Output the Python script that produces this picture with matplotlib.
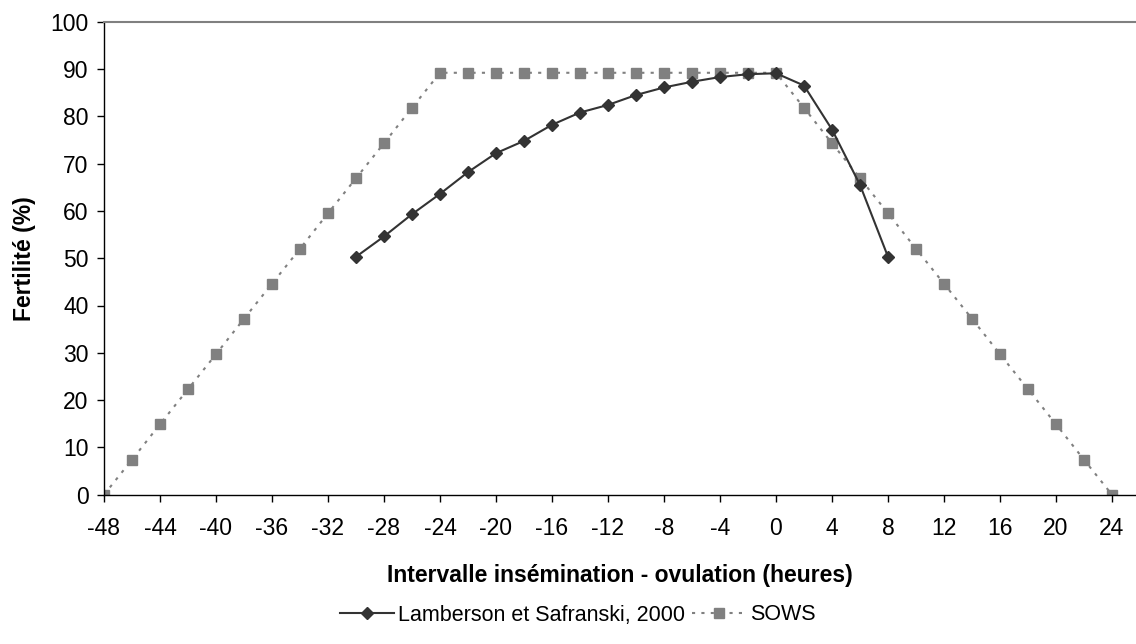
import matplotlib
matplotlib.use("Agg")
import matplotlib.pyplot as plt

plt.rcParams['font.family'] = ['Liberation Sans', 'DejaVu Sans']
plt.rcParams['axes.unicode_minus'] = False

hours_sows = [-48, -46, -44, -42, -40, -38, -36, -34, -32, -30, -28, -26, -24, -22, -20, -18,
              -16, -14, -12, -10, -8, -6, -4, -2, 0, 2, 4, 6, 8, 10, 12, 14, 16, 18, 20, 22, 24]
sows = [0, 7.4, 14.9, 22.3, 29.7, 37.2, 44.6, 52.0, 59.5, 66.9, 74.3, 81.8, 89.2, 89.2, 89.2, 89.2,
        89.2, 89.2, 89.2, 89.2, 89.2, 89.2, 89.2, 89.2, 89.2, 81.8, 74.3, 66.9, 59.5, 52.0, 44.6,
        37.2, 29.7, 22.3, 14.9, 7.4, 0]

hours_lam = [-30, -28, -26, -24, -22, -20, -18, -16, -14, -12, -10, -8, -6, -4, -2, 0, 2, 4, 6, 8]
lamberson = [50.3, 54.6, 59.3, 63.6, 68.2, 72.2, 74.8, 78.2, 80.8, 82.4, 84.5, 86.1, 87.3, 88.3,
             88.9, 89.1, 86.5, 77.2, 65.5, 50.3]

xticks = list(range(-48, 25, 4))
yticks = list(range(0, 101, 10))

FS = 16.5

fig = plt.figure(figsize=(11.36, 6.44), dpi=100)
ax = fig.add_axes([104/1136, 1 - 494.7/644, 1 - 104/1136, (494.7 - 21.7)/644])

ax.plot(hours_lam, lamberson, color='#333333', lw=1.5, marker='D', markersize=6.5,
        markerfacecolor='#333333', markeredgecolor='#333333',
        label='Lamberson et Safranski, 2000', zorder=3)
ax.plot(hours_sows, sows, color='#808080', lw=1.5, ls=(0, (1.5, 3)), marker='s', markersize=7,
        markerfacecolor='#808080', markeredgecolor='#808080', label='SOWS', zorder=2)

ax.set_xlim(-48, 24 + 24/14)
ax.set_ylim(0, 100)
ax.set_xticks(xticks)
ax.set_yticks(yticks)
ax.tick_params(axis='both', direction='out', length=5, width=1, labelsize=FS, colors='black')
ax.tick_params(axis='x', pad=11)
ax.tick_params(axis='y', pad=6)

ax.spines['right'].set_visible(False)
ax.spines['top'].set_color('#808080')
ax.spines['top'].set_linewidth(1.5)
ax.spines['left'].set_color('black')
ax.spines['bottom'].set_color('black')
ax.spines['left'].set_linewidth(1)
ax.spines['bottom'].set_linewidth(1)
for sp in ax.spines.values():
    sp.set_clip_on(False)

ax.set_xlabel('Intervalle insémination - ovulation (heures)', fontsize=FS, fontweight='bold')
ax.set_ylabel('Fertilité (%)', fontsize=FS, fontweight='bold')
ax.xaxis.set_label_coords(0.5, (494.7 - 564) / 473)
ax.yaxis.set_label_coords((36 - 104) / 1032, 0.5)

fig.legend(loc='center', bbox_to_anchor=(578/1136, 1 - 615/644), ncol=2, frameon=False,
           fontsize=15.5, handlelength=2.5, columnspacing=0.3, handletextpad=0.2)

fig.savefig('out.png', dpi=100)
